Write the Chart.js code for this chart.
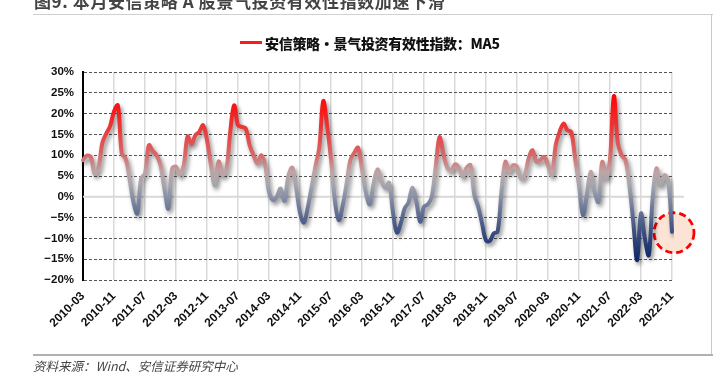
<!DOCTYPE html>
<html>
<head>
<meta charset="utf-8">
<script src="https://cdn.jsdelivr.net/npm/chart.js@4"></script>
<style>
  html, body { margin: 0; padding: 0; background: #fff; }
  #wrap { position: relative; width: 727px; height: 372px; overflow: hidden; }
  #chart { position: absolute; left: 0; top: 0; }
  .title { position: absolute; left: 34px; top: -8px; font: bold 17px "Noto Sans CJK SC", sans-serif; color: #444; line-height: 17px; white-space: nowrap; letter-spacing: 0.6px; }
  .legend-line { position: absolute; left: 240px; top: 41px; width: 22px; height: 3px; background: #ff1a1a; }
  .legend-text { position: absolute; left: 265px; top: 33px; font: 900 14px "Noto Sans CJK SC", sans-serif; color: #111; white-space: nowrap; letter-spacing: -0.3px; }
  .source { position: absolute; left: 33px; top: 356px; font: italic 12.5px "Noto Sans CJK SC", sans-serif; color: #444; white-space: nowrap; }
  .frame-top { position: absolute; left: 33px; top: 14px; width: 680px; height: 1px; background: #d0d0d0; }
  .frame-right { position: absolute; left: 711px; top: 14px; width: 1px; height: 341px; background: #c8c8c8; }
  .frame-bottom { position: absolute; left: 33px; top: 354px; width: 680px; height: 2px; background: #b0b0b0; }
</style>
</head>
<body>
<div id="wrap">
  <canvas id="chart" width="727" height="372"></canvas>
  <div class="frame-top"></div>
  <div class="frame-right"></div>
  <div class="frame-bottom"></div>
  <div class="title">图9. 本月安信策略 A 股景气投资有效性指数加速下滑</div>
  <div class="legend-line"></div>
  <div class="legend-text">安信策略·景气投资有效性指数：MA5</div>
  <div class="source">资料来源：Wind、安信证券研究中心</div>
</div>
<script>
// monthly MA5 index, 2010-03 .. 2022-11 (%)
const seriesName = "安信策略·景气投资有效性指数：MA5";
const startYear = 2010, startMonth = 3, monthCount = 153;

const indexValues = [
  8.8, 9.9, 9.6, 5.5, 7.0, 13.0, 15.2, 17.0, 20.5, 22.0,
  10.4, 9.2, 4.4, -1.2, -4.0, 4.4, 5.6, 12.4, 11.0, 10.0,
  7.6, 2.0, -2.8, 6.8, 7.2, 5.2, 7.6, 14.5, 12.6, 14.8,
  15.6, 17.2, 13.6, 7.6, 2.8, 8.5, 5.2, 6.5, 15.6, 22.0,
  17.2, 16.8, 16.4, 12.4, 10.0, 8.0, 10.0, 7.6, 1.2, -0.8,
  0.0, 2.0, -1.0, 5.0, 7.0, 2.2, -3.8, -6.2, -2.6, 2.4,
  7.4, 12.0, 23.0, 17.0, 9.0, -1.0, -5.6, -2.2, 3.0, 8.8,
  10.6, 11.8, 6.5, 1.0, -1.8, 3.2, 6.6, 3.8, 2.2, 3.4,
  -3.8, -8.6, -6.4, -2.8, -1.4, 2.2, -1.0, -6.0, -2.4, -1.8,
  0.0, 7.0, 14.3, 10.3, 7.0, 6.3, 7.8, 7.0, 4.8, 7.0,
  7.6, 0.4, -2.4, -6.5, -10.5, -10.6, -8.8, -8.4, 1.2, 8.4,
  6.0, 7.6, 7.2, 4.4, 5.2, 9.2, 11.2, 8.4, 8.8, 9.6,
  7.6, 5.2, 12.4, 15.6, 17.6, 16.0, 15.6, 9.2, 2.8, -4.4,
  0.4, 6.0, 1.2, -1.2, 8.4, 4.4, 9.0, 24.2, 13.0, 10.0,
  8.8, 2.8, -6.0, -15.2, -4.0, -10.0, -14.0, -0.4, 6.8, 2.8,
  5.2, 4.0, -8.4
];

// month labels, only every 8th one is shown as a tick
const months = [];
for (let i = 0; i < monthCount; i++) {
  const m = startMonth - 1 + i;
  const y = startYear + Math.floor(m / 12);
  const mm = (m % 12) + 1;
  months.push(y + "-" + (mm < 10 ? "0" + mm : mm));
}
const labelStep = 8;

const yTicks = [30, 25, 20, 15, 10, 5, 0, -5, -10, -15, -20];

// value -> colour stops for the line gradient
const gradientStops = [
  [25, "#ff0000"],
  [17, "#ec3434"],
  [10, "#d66a6a"],
  [6, "#bea4a6"],
  [3, "#a6a6ae"],
  [0, "#8990a6"],
  [-5, "#58678e"],
  [-10, "#30457a"],
  [-15, "#0e2965"]
];

function lineGradient(context) {
  const chart = context.chart;
  const area = chart.chartArea;
  if (!area) return "#c00";
  const y = chart.scales.y;
  const top = gradientStops[0][0], bottom = gradientStops[gradientStops.length - 1][0];
  const g = chart.ctx.createLinearGradient(0, y.getPixelForValue(top), 0, y.getPixelForValue(bottom));
  gradientStops.forEach(s => g.addColorStop((top - s[0]) / (top - bottom), s[1]));
  return g;
}

// shadow under the line + zero line + marker circle round the last point
const decorPlugin = {
  id: "decor",
  beforeDatasetsDraw(chart) {
    const { ctx, chartArea, scales } = chart;
    const y0 = scales.y.getPixelForValue(0);
    ctx.save();
    ctx.strokeStyle = "#d9d9d9";
    ctx.lineWidth = 2;
    ctx.beginPath();
    ctx.moveTo(chartArea.left, y0);
    ctx.lineTo(chartArea.right + 12, y0);
    ctx.stroke();

    const meta = chart.getDatasetMeta(0);
    const last = meta.data[meta.data.length - 1];
    ctx.beginPath();
    ctx.arc(last.x + 2, last.y + 1, 20, 0, Math.PI * 2);
    ctx.fillStyle = "#fbe3d5";
    ctx.fill();
    ctx.setLineDash([7, 4]);
    ctx.lineWidth = 2.8;
    ctx.strokeStyle = "#ff0000";
    ctx.stroke();
    ctx.restore();

    ctx.save();
    ctx.shadowColor = "rgba(0,0,0,0.45)";
    ctx.shadowBlur = 4;
    ctx.shadowOffsetX = 2;
    ctx.shadowOffsetY = 3;
  },
  afterDatasetsDraw(chart) {
    chart.ctx.restore();
  }
};

new Chart(document.getElementById("chart"), {
  type: "line",
  data: {
    labels: months,
    datasets: [{
      label: seriesName,
      data: indexValues,
      borderColor: lineGradient,
      borderWidth: 4,
      pointRadius: 0,
      tension: 0.35,
      fill: false,
      borderCapStyle: "round",
      borderJoinStyle: "round"
    }]
  },
  options: {
    responsive: false,
    animation: false,
    layout: { padding: { left: 0, right: 55, top: 72, bottom: 0 } },
    plugins: { legend: { display: false }, tooltip: { enabled: false } },
    scales: {
      x: {
        offset: false,
        afterFit: s => { s.height = 92; },
        border: { display: false },
        grid: {
          drawTicks: false,
          lineWidth: 1.5,
          color: c => (c.index % labelStep === 0 ? "#dadada" : "rgba(0,0,0,0)")
        },
        ticks: {
          autoSkip: false,
          minRotation: 45,
          maxRotation: 45,
          padding: 9,
          color: "#111",
          font: { family: "'Liberation Sans', Arial, sans-serif", size: 12, weight: "bold" },
          callback: (v, i) => (i % labelStep === 0 ? months[i] : "")
        }
      },
      y: {
        min: -20,
        max: 30,
        afterFit: s => { s.width = 83; },
        afterBuildTicks: s => { s.ticks = yTicks.map(v => ({ value: v })); },
        border: { display: true, color: "#000", width: 2, dash: [3, 2] },
        grid: { drawTicks: false, color: "#555", lineWidth: 1 },
        ticks: {
          padding: 9,
          color: "#111",
          font: { family: "'Liberation Sans', Arial, sans-serif", size: 11.5, weight: "bold" },
          callback: v => (v < 0 ? "\u2212" + Math.abs(v) : v) + "%"
        }
      }
    }
  },
  plugins: [decorPlugin]
});
</script>
</body>
</html>
